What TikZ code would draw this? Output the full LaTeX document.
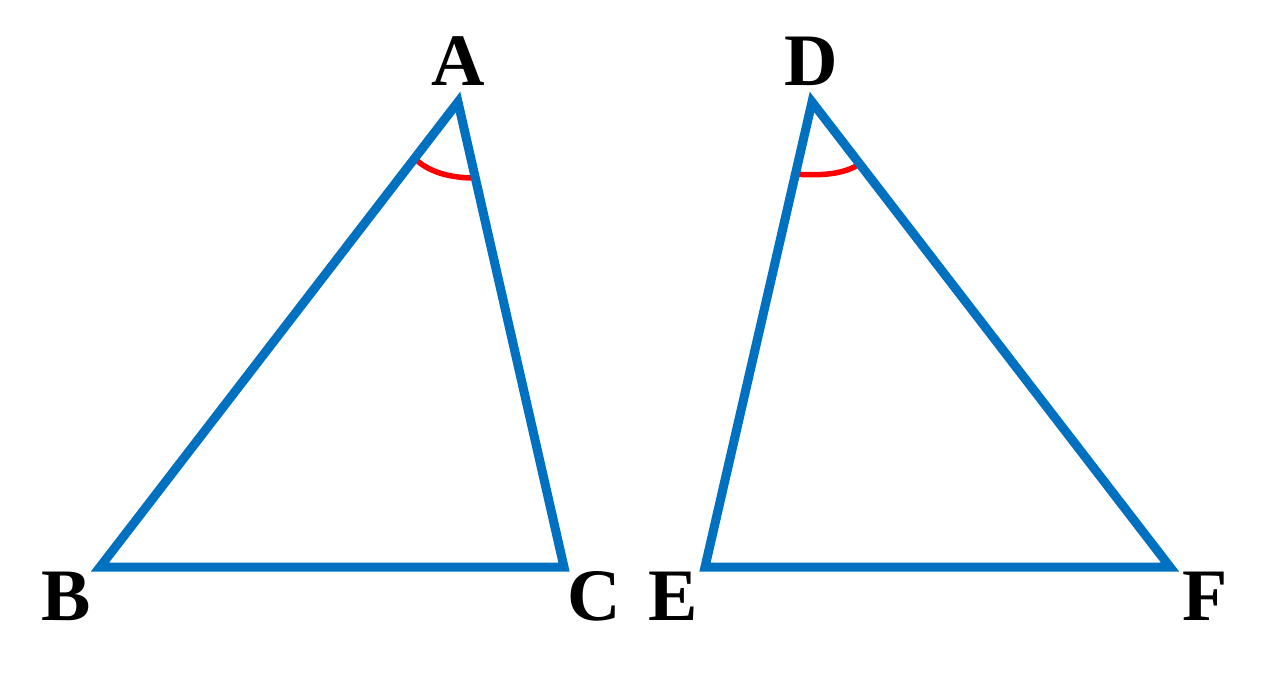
\documentclass[tikz,border=0pt]{standalone}
\usepackage{fontspec}
\setmainfont{Liberation Serif}
\usetikzlibrary{calc}
\definecolor{triblue}{HTML}{0070C0}
\definecolor{angred}{HTML}{FF0000}
\tikzset{
  tri/.style={draw=triblue, line width=9pt, line join=miter},
  lbl/.style={inner sep=0pt, font=\fontsize{74}{80}\selectfont\bfseries},
  angmark/.style={draw=angred, line width=5.5pt}
}
\begin{document}
\begin{tikzpicture}[x=1pt,y=-1pt]
\useasboundingbox (0,0) rectangle (1269,675);
\coordinate (A) at (458,102);
\coordinate (B) at (100,567);
\coordinate (C) at (564,567);
\coordinate (D) at (812,102);
\coordinate (E) at (705,567);
\coordinate (F) at (1170,567);
\coordinate (a1) at ($(A)!71pt!(B)$);
\coordinate (a2) at ($(A)!78pt!(C)$);
\coordinate (d1) at ($(D)!74pt!(E)$);
\coordinate (d2) at ($(D)!78pt!(F)$);
\draw[angmark] (a1) .. controls (428,172) and (450,178) .. (a2);
\draw[angmark] (d1) .. controls (822,176) and (845,174) .. (d2);
\draw[tri] (A) -- (B) -- (C) -- cycle;
\draw[tri] (D) -- (E) -- (F) -- cycle;
\node[lbl] (lA) at (458,61) {A};
\node[lbl] (lB) at (66,596) {B};
\node[lbl] (lC) at (594,596) {C};
\node[lbl] (lD) at (811,61) {D};
\node[lbl] (lE) at (673,596) {E};
\node[lbl] (lF) at (1205,596) {F};
\end{tikzpicture}
\end{document}
